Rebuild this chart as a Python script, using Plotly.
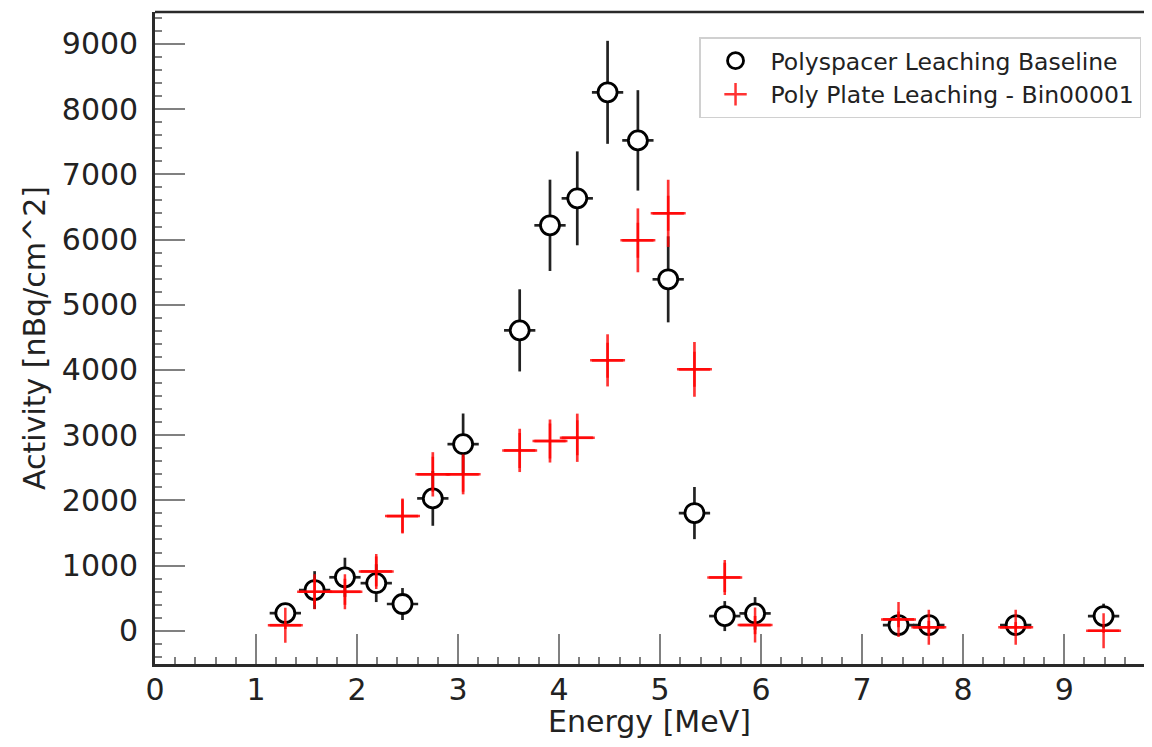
import plotly.graph_objects as go

# Energy bin centres [MeV]
energy = [1.29, 1.58, 1.88, 2.19, 2.45, 2.75, 3.05, 3.61, 3.91, 4.18,
          4.48, 4.78, 5.08, 5.34, 5.64, 5.94, 7.36, 7.66, 8.52, 9.39]
energy_err = [0.155] * 20

# Polyspacer Leaching Baseline
base_act = [270, 624, 820, 730, 410, 2030, 2862, 4607, 6218, 6632,
            8258, 7521, 5390, 1805, 225, 266, 87, 87, 87, 225]
base_err = [100, 290, 300, 290, 245, 420, 470, 630, 700, 720,
            790, 770, 660, 400, 230, 250, 90, 80, 80, 190]

# Poly Plate Leaching - Bin00001
plate_act = [85, 598, 598, 910, 1759, 2399, 2399, 2766, 2910, 2960,
             4147, 5988, 6402, 4009, 818, 87, 174, 52, 52, 0]
plate_err = [60, 200, 200, 230, 256, 340, 307, 332, 330, 370,
             400, 490, 515, 420, 225, 140, 120, 100, 80, 30]

xtick_vals = list(range(0, 10))
ytick_vals = list(range(0, 10000, 1000))

FONT = "DejaVu Sans"
RED = "rgba(255,0,0,0.8)"
SPINE = "#2a2a2a"

fig = go.Figure()
fig.add_trace(go.Scatter(
    x=energy, y=base_act, mode="markers", name="Polyspacer Leaching Baseline",
    legendgroup="a",
    marker=dict(symbol="circle", size=19, color="white",
                line=dict(color="black", width=2.8)),
    error_y=dict(type="data", array=base_err, color="#222222", thickness=2.7, width=0),
    error_x=dict(type="data", array=energy_err, color="#222222", thickness=2.7, width=0),
))
fig.add_trace(go.Scatter(
    x=energy, y=plate_act, mode="markers", name="Poly Plate Leaching - Bin00001",
    legendgroup="b",
    marker=dict(symbol="cross-thin", size=25, color=RED,
                line=dict(color=RED, width=2.5)),
    error_y=dict(type="data", array=plate_err, color=RED, thickness=2.7, width=0),
    error_x=dict(type="data", array=energy_err, color=RED, thickness=2.7, width=0),
))

# top spine only (no right spine in the reference)
fig.add_shape(type="line", xref="paper", yref="paper", x0=0, x1=1, y0=1, y1=1,
              line=dict(color=SPINE, width=2.6), layer="above")

# page body has an 8px margin, so the figure is sized 1136x731
fig.update_layout(
    width=1136, height=731,
    margin=dict(l=147, r=0, t=4, b=75, autoexpand=False),
    paper_bgcolor="white", plot_bgcolor="white",
    font=dict(family=FONT, color="#222222"),
    showlegend=True,
    legend=dict(
        x=0.997, y=0.961, xanchor="right", yanchor="top",
        bgcolor="rgba(255,255,255,0.8)", bordercolor="#d0d0d0", borderwidth=1.5,
        font=dict(family=FONT, size=23.5, color="#222222"),
        traceorder="grouped", tracegroupgap=0, itemwidth=60,
    ),
    xaxis=dict(
        range=[0, 9.79], tickvals=xtick_vals, automargin=False,
        showline=True, linecolor=SPINE, linewidth=2.6, mirror=False,
        ticks="inside", ticklen=30, tickwidth=2, tickcolor="#808080",
        minor=dict(dtick=0.2, ticks="inside", ticklen=7, tickwidth=2, tickcolor="#808080"),
        showgrid=False, zeroline=False,
        tickfont=dict(family=FONT, size=30, color="#222222"),
        ticklabelstandoff=-3,
        title=dict(text="Energy [MeV]", font=dict(family=FONT, size=30, color="#222222")),
    ),
    yaxis=dict(
        range=[-510, 9490], tickvals=ytick_vals, automargin=False,
        showline=True, linecolor=SPINE, linewidth=2.6, mirror=False,
        ticks="inside", ticklen=30, tickwidth=2, tickcolor="#808080",
        minor=dict(dtick=200, ticks="inside", ticklen=7, tickwidth=2, tickcolor="#808080"),
        showgrid=False, zeroline=False,
        tickfont=dict(family=FONT, size=30, color="#222222"),
        ticklabelstandoff=8,
        title=dict(text="Activity [nBq/cm^2]", font=dict(family=FONT, size=30, color="#222222"), standoff=8),
    ),
)

fig.write_html("out.html")
